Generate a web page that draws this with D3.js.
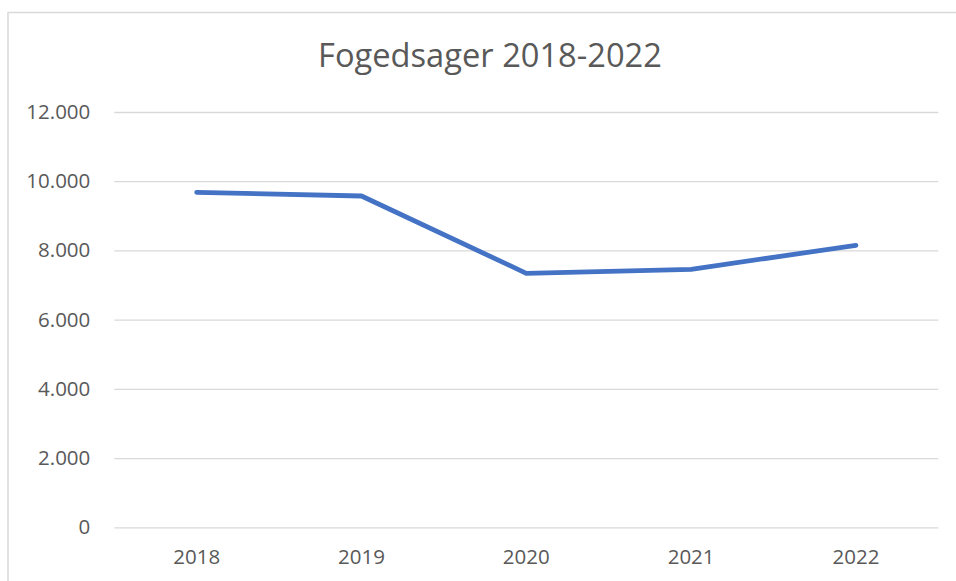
<!DOCTYPE html>
<html>
<head>
<meta charset="utf-8">
<script src="https://cdn.jsdelivr.net/npm/d3@7"></script>
<style>
  html, body { margin: 0; padding: 0; background: #fff; }
  svg { display: block; }
  text { font-family: "Open Sans", "DejaVu Sans", sans-serif; fill: #595959; }
</style>
</head>
<body>
<svg id="chart" width="956" height="581"></svg>
<script>
const title = "Fogedsager 2018-2022";
const years = ["2018", "2019", "2020", "2021", "2022"];
const values = [9680, 9573, 7339, 7455, 8148];
const yTicks = [0, 2000, 4000, 6000, 8000, 10000, 12000];
const yTickLabels = ["0", "2.000", "4.000", "6.000", "8.000", "10.000", "12.000"];

const svg = d3.select("#chart");
const W = 956, H = 581;

// outer chart border (only top and left visible)
svg.append("rect")
  .attr("x", 8).attr("y", 12.5)
  .attr("width", W + 20).attr("height", H + 20)
  .attr("fill", "none").attr("stroke", "#d9d9d9").attr("stroke-width", 1.5);

const plot = { left: 114.3, right: 938.3, top: 112, bottom: 527.3 };

const x = d3.scaleBand().domain(years).range([plot.left, plot.right]).padding(0);
const y = d3.scaleLinear().domain([0, 12000]).range([plot.bottom, plot.top]);

// gridlines
const grid = svg.append("g")
  .attr("transform", `translate(${plot.left},0)`)
  .call(d3.axisLeft(y).tickValues(yTicks).tickSize(-(plot.right - plot.left)).tickFormat(""));
grid.select(".domain").remove();
grid.selectAll("line").attr("stroke", "#d9d9d9").attr("stroke-width", 1.3);

// y axis labels
const yAxis = svg.append("g")
  .attr("transform", `translate(${plot.left},0)`)
  .call(d3.axisLeft(y).tickValues(yTicks).tickSize(0).tickPadding(24)
    .tickFormat((d, i) => yTickLabels[yTicks.indexOf(d)]));
yAxis.select(".domain").remove();
yAxis.selectAll("text")
  .style("font-family", '"Open Sans", sans-serif')
  .style("font-size", "20.5px").attr("fill", "#595959");

// x axis labels
const xAxis = svg.append("g")
  .attr("transform", `translate(0,${plot.bottom})`)
  .call(d3.axisBottom(x).tickSize(0).tickPadding(0));
xAxis.select(".domain").remove();
xAxis.selectAll("text")
  .style("font-family", '"Open Sans", sans-serif')
  .style("font-size", "20.5px").attr("fill", "#595959")
  .attr("dy", null).attr("y", 37);

// line
const line = d3.line()
  .x((d, i) => x(years[i]) + x.bandwidth() / 2)
  .y(d => y(d));
svg.append("path")
  .datum(values)
  .attr("d", line)
  .attr("fill", "none")
  .attr("stroke", "#4472C4")
  .attr("stroke-width", 4.8)
  .attr("stroke-linecap", "round")
  .attr("stroke-linejoin", "round");

// title
const t = svg.append("text")
  .attr("x", 490).attr("y", 66.5)
  .attr("text-anchor", "middle")
  .style("font-size", "30px")
  .text(title);
const tw = t.node().getComputedTextLength();
t.style("font-size", (30 * 344 / tw).toFixed(2) + "px");
</script>
</body>
</html>
